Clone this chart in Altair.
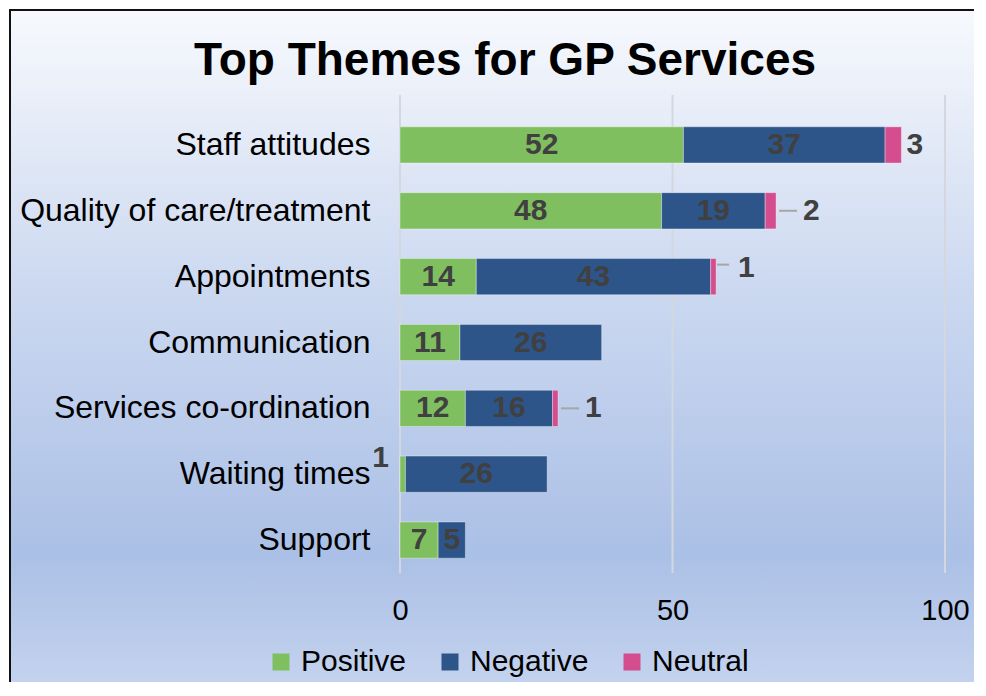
import altair as alt
import pandas as pd

categories = ["Staff attitudes", "Quality of care/treatment", "Appointments",
              "Communication", "Services co-ordination", "Waiting times", "Support"]
positive = [52, 48, 14, 11, 12, 1, 7]
negative = [37, 19, 43, 26, 16, 26, 5]
neutral = [3, 2, 1, 0, 1, 0, 0]
series = ["Positive", "Negative", "Neutral"]
colors = ["#80bf60", "#2d5589", "#d44d8f"]
tick_values = [0, 50, 100]
title_text = "Top Themes for GP Services"

rows = []
for i, c in enumerate(categories):
    start = 0
    for s, vals in zip(series, [positive, negative, neutral]):
        v = vals[i]
        if v > 0:
            rows.append({"category": c, "series": s, "value": v,
                         "start": start, "end": start + v, "mid": start + v / 2})
        start += v
df = pd.DataFrame(rows)

W, H = 545, 478
FONT = "Liberation Sans"
LABEL = "#404040"

xs = alt.Scale(domain=[0, 100], nice=False, zero=True)
ys = alt.Scale(domain=categories, range=[17, 478], paddingInner=0.45, paddingOuter=0.225)

base = alt.Chart(df)
one = pd.DataFrame({"a": [0]})

bg = alt.Chart(one).mark_rect(
    fill=alt.LinearGradient(
        gradient="linear",
        stops=[alt.GradientStop(color="#f7f9fd", offset=0),
               alt.GradientStop(color="#cbd8f0", offset=0.42),
               alt.GradientStop(color="#abc0e6", offset=0.81),
               alt.GradientStop(color="#c3d2ee", offset=1)],
        x1=0, x2=0, y1=0, y2=1),
    stroke="transparent", strokeWidth=0,
).encode(x=alt.value(-390), x2=alt.value(W + 31), y=alt.value(-85), y2=alt.value(H + 109))

# white cover over the right edge of the gradient (hides the edge artefact)
edge_cover = alt.Chart(one).mark_rect(fill="#ffffff", strokeWidth=0).encode(
    x=alt.value(W + 29), x2=alt.value(W + 60), y=alt.value(-95), y2=alt.value(H + 130))

border_left = alt.Chart(one).mark_rule(color="#111111", strokeWidth=2).encode(
    x=alt.value(-390), y=alt.value(-86), y2=alt.value(H + 109))
border_top = alt.Chart(one).mark_rule(color="#111111", strokeWidth=2).encode(
    x=alt.value(-391), x2=alt.value(W + 29), y=alt.value(-85))

title = alt.Chart(pd.DataFrame({"t": [title_text]})).mark_text(
    font=FONT, fontSize=46, fontWeight="bold", color="#000000",
    align="center", baseline="alphabetic"
).encode(text="t:N", x=alt.value(105), y=alt.value(-20))

grid = alt.Chart(pd.DataFrame({"t": tick_values})).mark_rule(
    color="#d4d7de", strokeWidth=2
).encode(x=alt.X("t:Q", scale=xs), y=alt.value(0), y2=alt.value(H))

bars = base.mark_bar(stroke="#ffffff", strokeOpacity=0.35, strokeWidth=1).encode(
    x=alt.X("start:Q", scale=xs,
            axis=alt.Axis(values=tick_values, grid=False, domain=False, ticks=False,
                          labelFlush=False, labelFont=FONT, labelFontSize=29,
                          labelColor="#000000", labelPadding=23, title=None, zindex=1)),
    x2="end:Q",
    y=alt.Y("category:N", scale=ys, sort=categories,
            axis=alt.Axis(domain=False, ticks=False, labelFont=FONT, labelFontSize=32,
                          labelColor="#000000", labelPadding=30, title=None,
                          labelLimit=400, zindex=1)),
    color=alt.Color("series:N", scale=alt.Scale(domain=series, range=colors),
                    legend=alt.Legend(orient="none", legendX=-134, legendY=552,
                                      direction="horizontal", title=None,
                                      symbolType="square", symbolSize=289,
                                      symbolStrokeWidth=0, labelFont=FONT,
                                      labelFontSize=30, labelColor="#000000",
                                      labelOffset=5, columnPadding=28, zindex=1)),
)

txt = dict(font=FONT, fontSize=30, fontWeight="bold", color=LABEL, baseline="middle")

inner = base.transform_filter(
    "datum.series != 'Neutral' && datum.value >= 5"
).mark_text(align="center", **txt).encode(
    x=alt.X("mid:Q", scale=xs), y=alt.Y("category:N", scale=ys, sort=categories),
    text="value:Q")

staff = base.transform_filter(
    "datum.series == 'Neutral' && datum.category == 'Staff attitudes'"
).mark_text(align="left", dx=5, **txt).encode(
    x=alt.X("end:Q", scale=xs), y=alt.Y("category:N", scale=ys, sort=categories),
    text="value:Q")

leadf = "datum.series == 'Neutral' && (datum.category == 'Quality of care/treatment' || datum.category == 'Services co-ordination')"
lead_txt = base.transform_filter(leadf).mark_text(align="left", dx=27, **txt).encode(
    x=alt.X("end:Q", scale=xs), y=alt.Y("category:N", scale=ys, sort=categories),
    text="value:Q")
lead_rule = base.transform_filter(leadf).mark_rule(
    color="#a6a6a6", strokeWidth=2, xOffset=3, x2Offset=21).encode(
    x=alt.X("end:Q", scale=xs), x2="end:Q",
    y=alt.Y("category:N", scale=ys, sort=categories))

appf = "datum.series == 'Neutral' && datum.category == 'Appointments'"
app_txt = base.transform_filter(appf).mark_text(align="left", dx=22, dy=-9, **txt).encode(
    x=alt.X("end:Q", scale=xs), y=alt.Y("category:N", scale=ys, sort=categories),
    text="value:Q")
app_rule = base.transform_filter(appf).mark_rule(
    color="#a6a6a6", strokeWidth=2, xOffset=1, x2Offset=13, yOffset=-12).encode(
    x=alt.X("end:Q", scale=xs), x2="end:Q",
    y=alt.Y("category:N", scale=ys, sort=categories))

waitf = "datum.series == 'Positive' && datum.category == 'Waiting times'"
wait_txt = base.transform_filter(waitf).mark_text(align="right", dx=-11, dy=-16, **txt).encode(
    x=alt.X("start:Q", scale=xs), y=alt.Y("category:N", scale=ys, sort=categories),
    text="value:Q")

chart = alt.layer(
    bg, edge_cover, border_left, border_top, title, grid, bars, inner, staff,
    lead_rule, lead_txt, app_rule, app_txt, wait_txt
).properties(
    width=W, height=H,
    autosize=alt.AutoSizeParams(type="none"),
    padding={"left": 392, "top": 87, "right": 33, "bottom": 110},
).configure_view(strokeWidth=0)

chart.save("out.html", embed_options={"renderer": "svg", "actions": False})
